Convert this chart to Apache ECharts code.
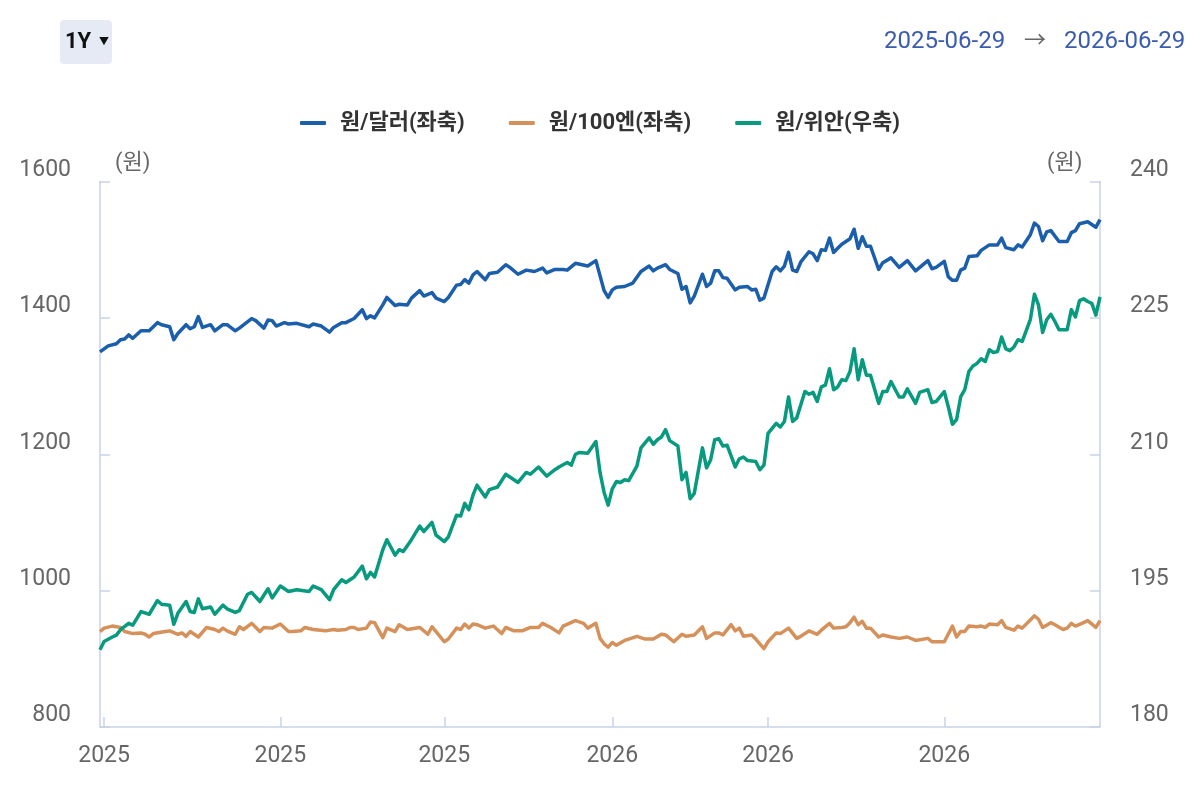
<!DOCTYPE html>
<html lang="ko">

<head>
    <meta charset="UTF-8">
    <script src="https://cdn.jsdelivr.net/npm/echarts@6.0.0/dist/echarts.min.js"></script>
    <title>환율</title>
    <style>
        html, body { margin: 0; padding: 0; background: #fff; }
        #chart { width: 1200px; height: 800px; }
    </style>
</head>

<body>
    <div id="chart"></div>

    <script type="text/javascript">
        // 영업일 (주말, 휴일 제외)
        var startDate = '2025-06-30';
        var endDate = '2026-06-29';
        var holidays = ['2025-08-15', '2025-10-03', '2025-10-06', '2025-10-07', '2025-10-08', '2025-10-09',
            '2025-12-25', '2025-12-31', '2026-01-01', '2026-02-16', '2026-02-17', '2026-02-18',
            '2026-03-02', '2026-05-05', '2026-05-25', '2026-06-03'];

        // [영업일 index, 값]
        var usdKrw = [[0,1350],[2,1359],[4,1362],[5,1368],[6,1369],[7,1375],[8,1370],[10,1381],[12,1381],[14,1393],[15,1390],[17,1387],[18,1368],[19,1377],[21,1390],[22,1384],[23,1387],[24,1402],[25,1386],[27,1390],[28,1381],[30,1390],[31,1390],[33,1381],[34,1385],[37,1399],[38,1396],[40,1385],[41,1397],[42,1396],[43,1388],[45,1393],[46,1391],[48,1392],[51,1387],[52,1391],[54,1388],[56,1379],[57,1386],[59,1393],[60,1393],[62,1399],[64,1412],[65,1399],[66,1403],[67,1400],[69,1419],[70,1430],[72,1418],[73,1420],[75,1419],[76,1429],[78,1440],[79,1432],[81,1437],[82,1429],[84,1424],[85,1430],[87,1448],[88,1449],[89,1456],[90,1451],[91,1463],[92,1468],[94,1456],[95,1465],[97,1467],[99,1478],[100,1474],[102,1464],[104,1470],[106,1468],[108,1473],[109,1466],[111,1471],[113,1471],[114,1470],[116,1480],[119,1476],[121,1484],[122,1462],[123,1440],[124,1430],[125,1441],[126,1445],[128,1446],[130,1451],[132,1468],[134,1476],[135,1469],[136,1473],[138,1478],[139,1471],[141,1465],[142,1442],[143,1446],[144,1422],[145,1432],[147,1464],[148,1446],[149,1451],[150,1469],[151,1469],[152,1459],[153,1458],[155,1441],[156,1445],[158,1446],[159,1441],[160,1442],[161,1426],[162,1429],[164,1468],[165,1475],[166,1469],[167,1476],[168,1496],[169,1470],[170,1468],[171,1482],[173,1497],[174,1494],[175,1484],[176,1500],[177,1499],[178,1517],[179,1496],[180,1502],[181,1508],[182,1512],[183,1516],[184,1530],[185,1502],[186,1519],[187,1505],[188,1505],[190,1471],[191,1481],[193,1488],[195,1474],[197,1484],[199,1469],[202,1484],[203,1472],[204,1474],[206,1483],[207,1460],[208,1455],[209,1455],[210,1470],[211,1473],[212,1490],[214,1491],[215,1499],[217,1507],[219,1507],[220,1517],[221,1503],[223,1500],[224,1507],[225,1504],[227,1522],[228,1539],[229,1534],[230,1513],[231,1526],[232,1528],[234,1512],[236,1512],[237,1525],[238,1528],[239,1538],[241,1541],[243,1533],[244,1544]];

        var jpyKrw = [[0,940],[1,945],[3,948],[5,946],[6,940],[8,937],[10,938],[11,936],[12,932],[13,937],[16,940],[17,941],[19,936],[20,938],[21,933],[22,940],[23,936],[24,932],[26,946],[28,943],[29,940],[30,945],[31,941],[33,936],[34,947],[35,943],[37,952],[39,940],[40,946],[42,945],[44,951],[46,940],[47,940],[49,941],[50,946],[52,943],[55,941],[57,943],[58,942],[60,943],[61,946],[62,946],[63,943],[65,945],[66,954],[67,953],[69,931],[70,945],[72,940],[73,950],[75,943],[78,946],[80,936],[81,947],[82,940],[84,925],[85,929],[87,945],[88,943],[89,951],[90,945],[91,951],[92,950],[94,945],[96,948],[98,937],[99,946],[101,941],[103,941],[105,946],[107,946],[108,952],[110,946],[112,938],[113,948],[116,956],[118,952],[119,945],[121,952],[122,930],[123,922],[124,917],[125,924],[126,920],[128,927],[129,929],[131,933],[133,929],[135,929],[137,936],[138,935],[140,925],[142,936],[143,933],[145,935],[147,947],[148,930],[150,938],[151,938],[152,935],[154,950],[155,941],[156,945],[157,933],[159,935],[160,929],[162,915],[163,925],[165,938],[166,937],[168,945],[170,930],[171,933],[173,941],[175,936],[176,942],[178,952],[179,945],[181,946],[182,947],[183,953],[184,961],[185,950],[186,955],[187,945],[188,945],[190,932],[191,935],[193,932],[195,930],[197,932],[199,927],[202,930],[203,925],[206,925],[208,948],[209,932],[210,940],[211,940],[212,948],[214,947],[215,948],[216,946],[217,951],[219,950],[220,956],[221,946],[223,942],[224,948],[225,945],[227,957],[228,963],[229,958],[230,946],[232,953],[233,950],[235,943],[236,945],[237,952],[238,948],[240,953],[241,956],[243,946],[244,956]];

        var cnyKrw = [[0,188.5],[1,189.4],[3,189.9],[4,190.1],[5,190.7],[7,191.4],[8,191.2],[10,192.7],[12,192.4],[14,193.9],[15,193.5],[17,193.4],[18,191.3],[19,192.5],[21,193.8],[22,192.7],[23,192.6],[24,194.1],[25,193.0],[27,193.2],[28,192.4],[30,193.4],[31,193.0],[33,192.6],[34,192.8],[36,194.6],[37,194.8],[39,193.8],[41,195.2],[42,194.2],[44,195.5],[46,194.9],[48,195.1],[51,194.9],[52,195.5],[54,195.1],[56,194.0],[57,195.1],[59,196.2],[60,195.9],[62,196.5],[64,197.7],[65,196.3],[66,197.0],[67,196.5],[69,199.5],[70,200.6],[72,198.9],[73,199.5],[74,199.3],[76,200.6],[78,202.1],[79,201.5],[81,202.5],[82,201.1],[84,200.4],[85,200.9],[87,203.3],[88,203.2],[89,204.6],[90,203.9],[91,205.5],[92,206.6],[94,205.3],[95,206.1],[97,206.4],[99,207.8],[100,207.5],[102,206.9],[104,208.0],[105,207.8],[107,208.6],[109,207.6],[111,208.3],[112,208.6],[114,209.1],[115,208.8],[116,210.0],[117,210.2],[119,210.1],[121,211.4],[122,208.0],[123,205.8],[124,204.4],[125,206.2],[126,207.0],[127,206.9],[128,207.2],[129,207.1],[131,208.7],[132,210.7],[134,211.8],[135,211.1],[136,211.6],[137,211.9],[138,212.7],[139,211.5],[141,210.9],[142,207.2],[143,208.0],[144,205.1],[145,205.7],[147,210.7],[148,208.5],[149,209.4],[150,211.6],[151,211.7],[152,210.9],[153,211.0],[155,208.6],[156,209.5],[157,209.7],[158,209.3],[160,209.2],[161,208.3],[162,208.8],[163,212.3],[165,213.4],[166,213.0],[167,213.6],[168,216.3],[169,213.6],[170,214.0],[172,216.9],[173,216.6],[174,216.8],[175,215.8],[176,217.4],[177,217.6],[178,219.4],[179,217.1],[180,217.4],[181,218.2],[182,218.1],[183,219.1],[184,221.6],[185,218.2],[186,220.4],[187,218.7],[188,218.7],[190,215.6],[191,216.9],[192,216.9],[193,218.0],[195,216.3],[196,216.3],[197,217.2],[199,215.6],[200,216.8],[202,217.1],[203,215.7],[204,215.8],[206,216.9],[207,215.2],[208,213.3],[209,213.8],[210,216.3],[211,217.1],[212,219.1],[213,219.7],[214,220.0],[215,220.5],[216,220.2],[217,221.5],[218,221.2],[219,221.3],[220,222.9],[221,221.6],[222,221.4],[223,221.8],[224,222.6],[225,222.4],[227,224.8],[228,227.6],[229,226.4],[230,223.4],[231,224.8],[232,225.4],[233,224.6],[234,223.7],[236,223.7],[237,225.9],[238,225.1],[239,226.9],[240,227.1],[241,226.8],[242,226.6],[243,225.3],[244,227.3]];

        var seriesNames = ['원/달러(좌축)', '원/100엔(좌축)', '원/위안(우축)'];
        var seriesColors = ['#1b5eab', '#d6915a', '#079a7f'];

        function fmt(d) {
            var m = d.getMonth() + 1, day = d.getDate();
            return d.getFullYear() + '-' + (m < 10 ? '0' + m : m) + '-' + (day < 10 ? '0' + day : day);
        }

        var dates = [];
        var d = new Date(startDate + 'T00:00:00');
        var end = new Date(endDate + 'T00:00:00');
        while (d <= end) {
            var s = fmt(d);
            if (d.getDay() !== 0 && d.getDay() !== 6 && holidays.indexOf(s) < 0) {
                dates.push(s);
            }
            d.setDate(d.getDate() + 1);
        }

        // 홀수달 첫 영업일에 눈금
        function isTick(index) {
            if (index === 0) return false;
            var m = +dates[index].slice(5, 7);
            return dates[index].slice(5, 7) !== dates[index - 1].slice(5, 7) && m % 2 === 1;
        }

        var font = 'Roboto, "Noto Sans CJK KR", sans-serif';
        var axisColor = '#c9d3e9';

        var chart = echarts.init(document.getElementById('chart'));
        var option = {
            animation: false,
            textStyle: { fontFamily: font },
            color: seriesColors,
            legend: {
                top: 107,
                left: 'center',
                itemGap: 44,
                itemWidth: 26,
                itemHeight: 4,
                icon: 'roundRect',
                textStyle: {
                    fontSize: 22,
                    fontWeight: 'bold',
                    color: '#333',
                    fontFamily: font,
                    padding: [0, 0, 0, 9]
                },
                data: seriesNames
            },
            grid: {
                left: 100,
                right: 100,
                top: 181.5,
                bottom: 73
            },
            xAxis: {
                type: 'category',
                boundaryGap: false,
                data: dates,
                axisLine: { lineStyle: { color: axisColor, width: 1.5 } },
                axisTick: {
                    inside: true,
                    length: 10,
                    interval: isTick,
                    lineStyle: { color: axisColor, width: 1.5 }
                },
                axisLabel: {
                    interval: isTick,
                    margin: 18,
                    fontSize: 23,
                    color: '#666',
                    formatter: function (v) { return v.slice(0, 4); }
                },
                splitLine: { show: false }
            },
            yAxis: [
                {
                    type: 'value',
                    min: 800,
                    max: 1600,
                    interval: 200,
                    axisLine: { show: true, lineStyle: { color: axisColor, width: 1.5 } },
                    axisTick: { show: true, inside: true, length: 10, lineStyle: { color: axisColor, width: 1.5 } },
                    axisLabel: { margin: 29, fontSize: 23, color: '#666', verticalAlign: 'bottom', formatter: function (v) { return String(v); } },
                    splitLine: { show: false }
                },
                {
                    type: 'value',
                    min: 180,
                    max: 240,
                    interval: 15,
                    axisLine: { show: true, lineStyle: { color: axisColor, width: 1.5 } },
                    axisTick: { show: true, inside: true, length: 10, lineStyle: { color: axisColor, width: 1.5 } },
                    axisLabel: { margin: 30, fontSize: 23, color: '#666', verticalAlign: 'bottom', formatter: function (v) { return String(v); } },
                    splitLine: { show: false }
                }
            ],
            graphic: [
                { type: 'rect', shape: { x: 60, y: 20, width: 52, height: 44, r: 4 }, style: { fill: '#e6eaf5' } },
                { type: 'text', x: 65, y: 42, style: { text: '1Y', font: 'bold 22px ' + font, fill: '#111', textVerticalAlign: 'middle', verticalAlign: 'middle' } },
                { type: 'text', x: 99, y: 42, style: { text: '▼', font: '10px ' + font, fill: '#111', textVerticalAlign: 'middle', verticalAlign: 'middle' } },
                { type: 'text', x: 884, y: 42, style: { text: '2025-06-29', font: '24px ' + font, fill: '#3a5caf', textVerticalAlign: 'middle', verticalAlign: 'middle' } },
                { type: 'text', x: 1024, y: 41, style: { text: '→', font: '22px ' + font, fill: '#666', textVerticalAlign: 'middle', verticalAlign: 'middle' } },
                { type: 'text', x: 1064, y: 42, style: { text: '2026-06-29', font: '24px ' + font, fill: '#3a5caf', textVerticalAlign: 'middle', verticalAlign: 'middle' } },
                { type: 'text', x: 115, y: 163, style: { text: '(원)', font: '22px ' + font, fill: '#666', textVerticalAlign: 'middle', verticalAlign: 'middle' } },
                { type: 'text', x: 1047, y: 163, style: { text: '(원)', font: '22px ' + font, fill: '#666', textVerticalAlign: 'middle', verticalAlign: 'middle' } }
            ],
            series: [
                {
                    name: seriesNames[0],
                    type: 'line',
                    yAxisIndex: 0,
                    showSymbol: false,
                    lineStyle: { width: 3.5, join: 'round' },
                    data: usdKrw
                },
                {
                    name: seriesNames[1],
                    type: 'line',
                    yAxisIndex: 0,
                    showSymbol: false,
                    lineStyle: { width: 3.5, join: 'round' },
                    data: jpyKrw
                },
                {
                    name: seriesNames[2],
                    type: 'line',
                    yAxisIndex: 1,
                    showSymbol: false,
                    lineStyle: { width: 3.5, join: 'round' },
                    data: cnyKrw
                }
            ]
        };
        chart.setOption(option);
    </script>
</body>

</html>
